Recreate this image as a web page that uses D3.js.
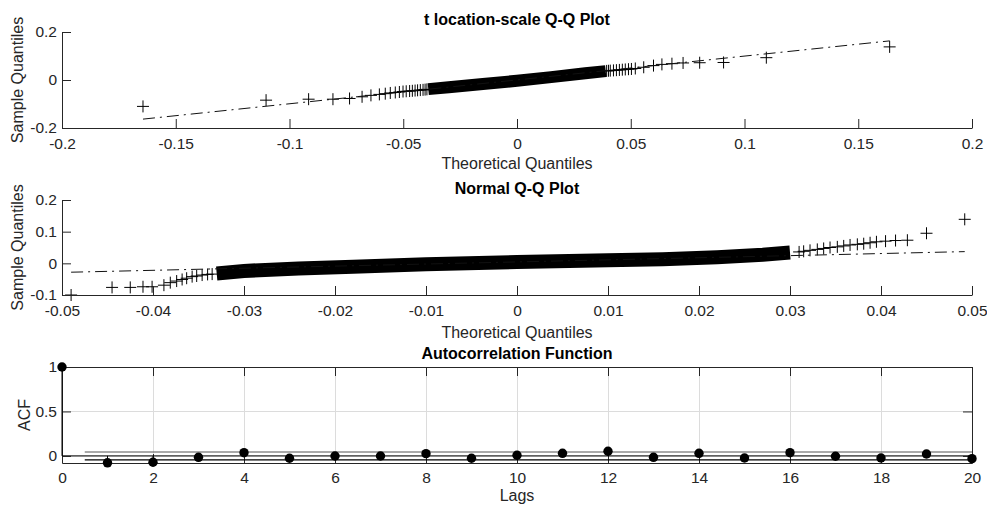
<!DOCTYPE html>
<html>
<head>
<meta charset="utf-8">
<script src="https://cdn.jsdelivr.net/npm/d3@7"></script>
<style>
  body { margin: 0; background: #fff; }
  svg text { font-family: "Liberation Sans", Arial, sans-serif; }
</style>
</head>
<body>
<svg width="987" height="505"></svg>
<script>
// DATA

// t location-scale Q-Q plot: individual markers (theoretical, sample)
var tTheo = [-0.1644, -0.1103, -0.0916, -0.0809, -0.0736, -0.0681, -0.0642, -0.0605, -0.0579, -0.0557,
             -0.0535, -0.0517, -0.0501, -0.0487, -0.0472, -0.0460, -0.0448, -0.0437, -0.0425, -0.0413,
             -0.0404, -0.0396,
             0.0394, 0.0402, 0.0410, 0.0424, 0.0437, 0.0450, 0.0463, 0.0476, 0.0490, 0.0503, 0.0520, 0.0557,
             0.0600, 0.0637, 0.0681, 0.0730, 0.0803, 0.0908, 0.1096, 0.1638];
var tSample = [-0.110, -0.084, -0.080, -0.080, -0.077, -0.070, -0.064, -0.060, -0.057, -0.054,
               -0.052, -0.050, -0.048, -0.047, -0.046, -0.045, -0.044, -0.043, -0.042, -0.041,
               -0.040, -0.039,
               0.038, 0.0385, 0.039, 0.040, 0.041, 0.042, 0.043, 0.044, 0.045, 0.046, 0.048, 0.053,
               0.060, 0.065, 0.068, 0.071, 0.072, 0.073, 0.093, 0.138];
// the dense run of markers in the middle, traced along its centre
var tBandTheo = [-0.039, -0.030, -0.015, 0, 0.015, 0.030, 0.039];
var tBandSample = [-0.038, -0.030, -0.017, -0.003, 0.012, 0.028, 0.037];
var tRefTheo = [-0.1644, 0.1638];
var tRefSample = [-0.163, 0.163];

// Normal Q-Q plot
var normTheo = [-0.0490, -0.0445, -0.0425, -0.0411, -0.0401, -0.0388, -0.0381, -0.0374, -0.0368, -0.0363,
                -0.0357, -0.0352, -0.0346, -0.0340, -0.0335,
                0.0310, 0.0315, 0.0322, 0.0330, 0.0337, 0.0344, 0.0352, 0.0359, 0.0366, 0.0374, 0.0381,
                0.0388, 0.0395, 0.0405, 0.0416, 0.0429, 0.0450, 0.0492];
var normSample = [-0.100, -0.076, -0.076, -0.074, -0.074, -0.069, -0.061, -0.056, -0.051, -0.047,
                  -0.042, -0.040, -0.037, -0.035, -0.034,
                  0.036, 0.038, 0.041, 0.044, 0.047, 0.050, 0.052, 0.055, 0.058, 0.060, 0.062,
                  0.065, 0.068, 0.070, 0.072, 0.073, 0.095, 0.139];
var normBandTheo = [-0.033, -0.030, -0.024, -0.018, -0.010, 0, 0.010, 0.016, 0.022, 0.027, 0.030];
var normBandSample = [-0.032, -0.024, -0.016, -0.011, -0.003, 0.004, 0.010, 0.013, 0.019, 0.027, 0.034];
var normRefTheo = [-0.0490, 0.0492];
var normRefSample = [-0.028, 0.037];

// Autocorrelation
var lags = [0, 1, 2, 3, 4, 5, 6, 7, 8, 9, 10, 11, 12, 13, 14, 15, 16, 17, 18, 19, 20];
var acf = [1, -0.078, -0.072, -0.016, 0.036, -0.027, -0.001, -0.001, 0.025, -0.027, 0.007,
           0.029, 0.052, -0.016, 0.029, -0.024, 0.036, -0.004, -0.024, 0.021, -0.031];
var acfBound = 0.044;

// tick labels
var tXTicks = [-0.2, -0.15, -0.1, -0.05, 0, 0.05, 0.1, 0.15, 0.2];
var tYTicks = [-0.2, 0, 0.2];
var normXTicks = [-0.05, -0.04, -0.03, -0.02, -0.01, 0, 0.01, 0.02, 0.03, 0.04, 0.05];
var normYTicks = [-0.1, 0, 0.1, 0.2];
var acfXTicks = [0, 2, 4, 6, 8, 10, 12, 14, 16, 18, 20];
var acfYTicks = [0, 0.5, 1];


var svg = d3.select("svg");
var left = 62, right = 972;
var axisColor = "#262626";

function fmt(d) { return String(+d.toFixed(4)); }

function styleAxis(sel) {
  sel.attr("font-size", null).attr("font-family", null);
  sel.selectAll("text").style("font-size", "15.5px").attr("fill", axisColor);
  sel.selectAll("line").attr("stroke", axisColor);
  sel.select(".domain").attr("stroke", axisColor);
}

function addText(x, y, str, size, bold, rotate) {
  var t = svg.append("text")
    .attr("x", x).attr("y", y)
    .attr("text-anchor", "middle")
    .style("font-size", size + "px")
    .attr("fill", bold ? "#000" : axisColor)
    .text(str);
  if (bold) t.style("font-weight", "bold");
  if (rotate) t.attr("transform", "rotate(-90," + x + "," + y + ")");
  return t;
}

function qqPanel(p) {
  var x = d3.scaleLinear().domain(p.xDomain).range([left, right]);
  var y = d3.scaleLinear().domain(p.yDomain).range([p.bottom, p.top]);
  var g = svg.append("g");

  // dense part of the marker cloud
  g.append("path")
    .datum(d3.zip(p.bandTheo, p.bandSample))
    .attr("d", d3.line().x(function(d) { return x(d[0]); }).y(function(d) { return y(d[1]); }))
    .attr("fill", "none")
    .attr("stroke", "#000")
    .attr("stroke-width", p.bandWidth);

  // + markers
  g.selectAll(".pt")
    .data(d3.zip(p.theo, p.sample))
    .enter().append("path")
      .attr("class", "pt")
      .attr("transform", function(d) { return "translate(" + x(d[0]) + "," + y(d[1]) + ")"; })
      .attr("d", "M-6,0H6M0,-6V6")
      .attr("stroke", "#000")
      .attr("stroke-width", 1);

  // dash-dot reference line
  g.append("path")
    .datum(d3.zip(p.refTheo, p.refSample))
    .attr("d", d3.line().x(function(d) { return x(d[0]); }).y(function(d) { return y(d[1]); }))
    .attr("fill", "none")
    .attr("stroke", "#111")
    .attr("stroke-width", 1)
    .attr("stroke-dasharray", "12,5,2,5");

  g.append("g")
    .attr("transform", "translate(0," + p.bottom + ")")
    .call(d3.axisBottom(x).tickValues(p.xTicks).tickSizeInner(-9).tickSizeOuter(0)
      .tickPadding(10).tickFormat(fmt))
    .call(styleAxis);
  g.append("g")
    .attr("transform", "translate(" + left + ",0)")
    .call(d3.axisLeft(y).tickValues(p.yTicks).tickSizeInner(-9).tickSizeOuter(0)
      .tickPadding(5).tickFormat(fmt))
    .call(styleAxis);

  addText((left + right) / 2, p.titleY, p.title, 16, true);
  addText((left + right) / 2, p.labelY, "Theoretical Quantiles", 16, false);
  addText(23, (p.top + p.bottom) / 2, "Sample Quantiles", 16, false, true);
}

qqPanel({
  top: 32, bottom: 128,
  xDomain: [-0.2, 0.2], yDomain: [-0.2, 0.2],
  xTicks: tXTicks, yTicks: tYTicks,
  theo: tTheo, sample: tSample,
  bandTheo: tBandTheo, bandSample: tBandSample, bandWidth: 12,
  refTheo: tRefTheo, refSample: tRefSample,
  title: "t location-scale Q-Q Plot", titleY: 24.5, labelY: 169
});

qqPanel({
  top: 200, bottom: 295,
  xDomain: [-0.05, 0.05], yDomain: [-0.1, 0.2],
  xTicks: normXTicks, yTicks: normYTicks,
  theo: normTheo, sample: normSample,
  bandTheo: normBandTheo, bandSample: normBandSample, bandWidth: 14,
  refTheo: normRefTheo, refSample: normRefSample,
  title: "Normal Q-Q Plot", titleY: 194, labelY: 338
});

// AUTOCORRELATION PANEL
(function() {
  var top = 367, bottom = 463;
  var x = d3.scaleLinear().domain([0, 20]).range([left, right]);
  var y = d3.scaleLinear().domain([-0.08, 1]).range([bottom, top]);
  var g = svg.append("g");

  // grid
  g.append("g").selectAll("line").data(acfXTicks).enter().append("line")
    .attr("x1", function(d) { return Math.round(x(d)) + 0.5; })
    .attr("x2", function(d) { return Math.round(x(d)) + 0.5; })
    .attr("y1", top).attr("y2", bottom)
    .attr("stroke", "#dcdcdc");
  g.append("g").selectAll("line").data(acfYTicks).enter().append("line")
    .attr("y1", function(d) { return Math.round(y(d)) + 0.5; })
    .attr("y2", function(d) { return Math.round(y(d)) + 0.5; })
    .attr("x1", left).attr("x2", right)
    .attr("stroke", "#dcdcdc");

  // box + ticks
  g.append("g").attr("transform", "translate(0," + bottom + ")")
    .call(d3.axisBottom(x).tickValues(acfXTicks).tickSizeInner(-9).tickSizeOuter(0)
      .tickPadding(9).tickFormat(fmt))
    .call(styleAxis);
  g.append("g").attr("transform", "translate(0," + top + ")")
    .call(d3.axisTop(x).tickValues(acfXTicks).tickSizeInner(-9).tickSizeOuter(0).tickFormat(""))
    .call(styleAxis);
  g.append("g").attr("transform", "translate(" + left + ",0)")
    .call(d3.axisLeft(y).tickValues(acfYTicks).tickSizeInner(-9).tickSizeOuter(0)
      .tickPadding(5).tickFormat(fmt))
    .call(styleAxis);
  g.append("g").attr("transform", "translate(" + right + ",0)")
    .call(d3.axisRight(y).tickValues(acfYTicks).tickSizeInner(-9).tickSizeOuter(0).tickFormat(""))
    .call(styleAxis);

  // zero line and confidence bounds
  g.append("line")
    .attr("x1", x(0)).attr("x2", x(20))
    .attr("y1", y(0)).attr("y2", y(0))
    .attr("stroke", "#000");
  g.selectAll(".bound").data([acfBound, -acfBound]).enter().append("line")
    .attr("class", "bound")
    .attr("x1", x(0.5)).attr("x2", x(20))
    .attr("y1", function(d) { return y(d); }).attr("y2", function(d) { return y(d); })
    .attr("stroke", function(d, i) { return i == 0 ? "#555" : "#000"; })
    .attr("stroke-width", 1.2);

  var pts = d3.zip(lags, acf);
  // stems
  g.selectAll(".stem").data(pts).enter().append("line")
    .attr("class", "stem")
    .attr("x1", function(d) { return x(d[0]); }).attr("x2", function(d) { return x(d[0]); })
    .attr("y1", y(0)).attr("y2", function(d) { return y(d[1]); })
    .attr("stroke", "#000");
  // markers
  g.selectAll(".dot").data(pts).enter().append("circle")
    .attr("class", "dot")
    .attr("cx", function(d) { return x(d[0]); })
    .attr("cy", function(d) { return y(d[1]); })
    .attr("r", 4.7)
    .attr("fill", "#000");

  addText((left + right) / 2, 359, "Autocorrelation Function", 16, true);
  addText((left + right) / 2, 501, "Lags", 16, false);
  addText(29.5, (top + bottom) / 2, "ACF", 16, false, true);
})();
</script>
</body>
</html>
